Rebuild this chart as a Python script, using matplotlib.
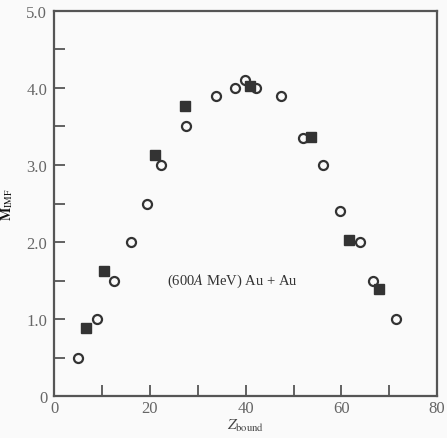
import matplotlib
matplotlib.use("Agg")
import matplotlib.pyplot as plt

# open circles
circle_z = [4.9, 9.0, 12.5, 16.0, 19.3, 22.4, 27.5, 33.9, 37.8, 39.8, 42.1, 47.4,
            52.0, 56.1, 59.8, 63.9, 66.7, 71.5]
circle_m = [0.5, 1.0, 1.5, 2.0, 2.5, 3.0, 3.5, 3.9, 4.0, 4.1, 4.0, 3.9,
            3.35, 3.0, 2.4, 2.0, 1.5, 1.0]

# filled squares
square_z = [6.6, 10.5, 21.0, 27.3, 40.9, 53.6, 61.6, 67.8]
square_m = [0.88, 1.62, 3.13, 3.77, 4.02, 3.37, 2.03, 1.39]

xticks = [0, 20, 40, 60, 80]
yticks = [0, 1, 2, 3, 4, 5]
ylabels = ["0", "1.0", "2.0", "3.0", "4.0", "5.0"]

plt.rcParams['font.family'] = ['Liberation Serif', 'DejaVu Serif']
plt.rcParams['mathtext.fontset'] = 'stix'

fig = plt.figure(figsize=(4.47, 4.39), dpi=100, facecolor='#fafafa')
ax = fig.add_axes([0.121, 0.095, 0.857, 0.878])
ax.set_facecolor('#fafafa')

ax.plot(circle_z, circle_m, 'o', ms=6.5, mfc='none', mec='#333333', mew=1.6, ls='none')
ax.plot(square_z, square_m, 's', ms=6.5, mfc='#333333', mec='#333333', ls='none')

ax.set_xlim(0, 80)
ax.set_ylim(0, 5)
ax.set_xticks(xticks)
ax.set_xticks([10, 30, 50, 70], minor=True)
ax.set_yticks(yticks, ylabels)
ax.set_yticks([0.5, 1.5, 2.5, 3.5, 4.5], minor=True)

for which in ('major', 'minor'):
    ax.tick_params(which=which, direction='in', length=8, width=1.3, color='#555555')
ax.tick_params(labelsize=12, labelcolor='#666666')
ax.tick_params(axis='x', pad=3)
ax.tick_params(axis='y', pad=5)
for s in ax.spines.values():
    s.set_color('#555555')
    s.set_linewidth(1.6)

ax.text(23.5, 1.5, r"(600$A$ MeV) Au + Au", fontsize=10.5, color='#333333', va='center')

ax.set_xlabel(r"$Z_{\rm bound}$", fontsize=11, color='#444444', labelpad=0)
ax.set_ylabel(r"$\mathbf{M}_{\rm IMF}$", fontsize=10, color='#111111', labelpad=8)

fig.savefig("out.png", dpi=100, facecolor=fig.get_facecolor())
